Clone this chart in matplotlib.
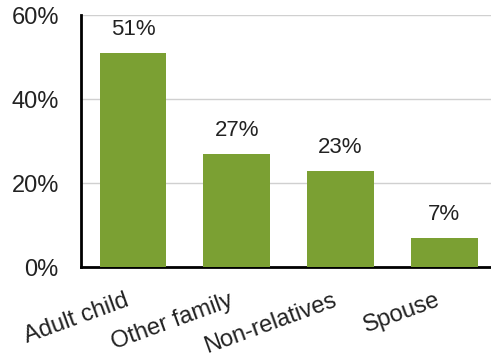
import matplotlib.pyplot as plt
import matplotlib.transforms as mtransforms
from matplotlib.ticker import FuncFormatter

categories = ['Adult child', 'Other family', 'Non-relatives', 'Spouse']
values = [51, 27, 23, 7]
bar_color = '#7ba033'

plt.rcParams['font.family'] = ['Liberation Sans', 'DejaVu Sans']

fig = plt.figure(figsize=(4.91, 3.61), dpi=100)
ax = fig.add_axes([0.165, 0.26, 0.835, 0.698])

x = range(len(categories))
bars = ax.bar(x, values, width=0.64, color=bar_color, zorder=3)
for b, v in zip(bars, values):
    ax.text(b.get_x() + b.get_width() / 2, v + 3, '{}%'.format(v),
            ha='center', va='bottom', fontsize=16, color='#222222')

ax.set_ylim(0, 60)
ax.set_xlim(-0.5, 3.45)
ax.set_yticks([0, 20, 40, 60])
ax.yaxis.set_major_formatter(FuncFormatter(lambda v, p: '{}%'.format(int(v))))
ax.yaxis.grid(True, color='#d0d0d0', linewidth=1, zorder=0)
ax.tick_params(axis='y', length=0, labelsize=17, pad=16, labelcolor='#222222')
ax.tick_params(axis='x', length=0, labelsize=17, pad=16, labelcolor='#222222')
ax.set_xticks(list(x))
ax.set_xticklabels(categories, rotation=20, ha='right', rotation_mode='anchor')
shift = mtransforms.ScaledTranslation(-6 / 72, 0, fig.dpi_scale_trans)
for lbl in ax.get_xticklabels():
    lbl.set_transform(lbl.get_transform() + shift)

for s in ['top', 'right']:
    ax.spines[s].set_visible(False)
ax.spines['left'].set_linewidth(2)
ax.spines['bottom'].set_linewidth(2)

fig.savefig('out.png', dpi=100)
